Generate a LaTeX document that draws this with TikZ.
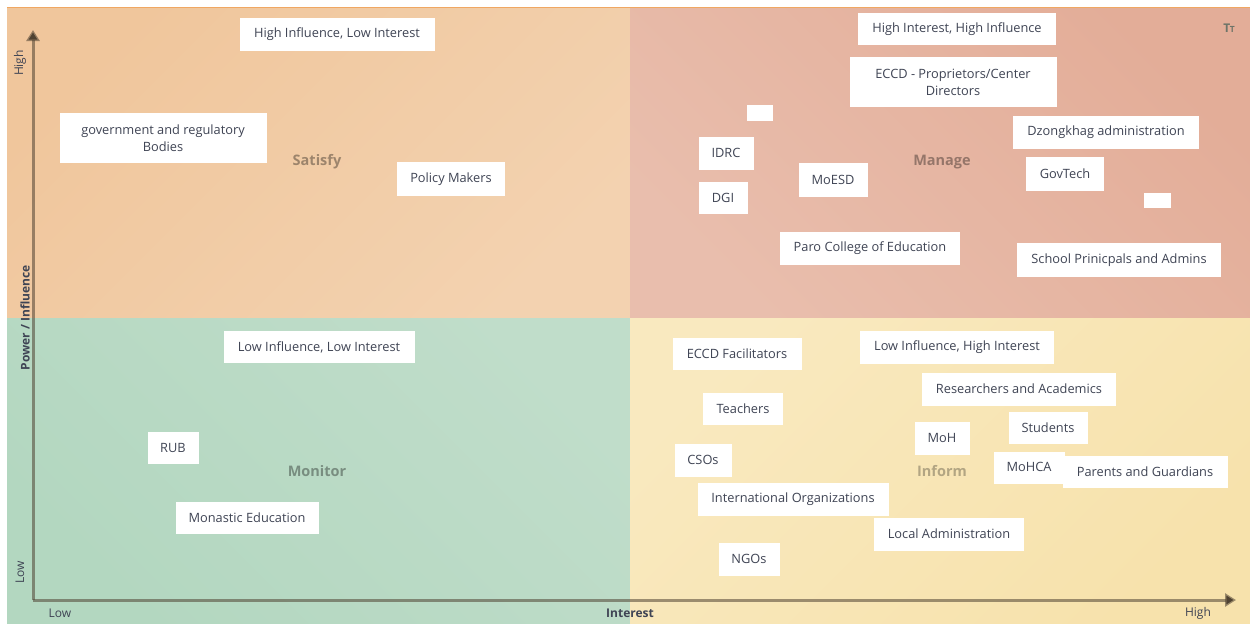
\documentclass[tikz,border=0pt]{standalone}
\usepackage{fontspec}
\setmainfont{Open Sans}
\usetikzlibrary{arrows.meta}

\definecolor{ink}{HTML}{3F4454}
\definecolor{satisfyDark}{HTML}{F0C69C}
\definecolor{satisfyLight}{HTML}{F3D2B0}
\definecolor{manageDark}{HTML}{E3AD98}
\definecolor{manageLight}{HTML}{E9BEAD}
\definecolor{monitorDark}{HTML}{B3D7C0}
\definecolor{monitorLight}{HTML}{C0DDCA}
\definecolor{informDark}{HTML}{F7E2AC}
\definecolor{informLight}{HTML}{F9E9BF}
\definecolor{rimOrange}{HTML}{F0A762}
\definecolor{axisBrown}{HTML}{4F4232}
\definecolor{iconGrey}{HTML}{6E7468}

\begin{document}
\begin{tikzpicture}[x=1pt,y=-1pt,
   stake/.style={fill=white,text=ink,inner sep=0pt,minimum height=33pt,
      font=\fontsize{12.8}{17}\selectfont,align=center},
   zone/.style={text=black,text opacity=.35,font=\fontsize{14.5}{18}\selectfont\bfseries},
   axislabel/.style={text=ink,font=\fontsize{12}{14}\selectfont},
   axisline/.style={draw=axisBrown,draw opacity=.55,line width=3pt}]

   \useasboundingbox[fill=white] (0,0) rectangle (1250,625);

   % the four quadrants
   \shade[top color=satisfyDark,bottom color=satisfyLight,shading angle=45]
   (7,8) rectangle (630,318);
   \shade[top color=manageDark,bottom color=manageLight,shading angle=-45]
   (630,8) rectangle (1250,318);
   \shade[top color=monitorDark,bottom color=monitorLight,shading angle=135]
   (7,318) rectangle (630,623);
   \shade[top color=informDark,bottom color=informLight,shading angle=-135]
   (630,318) rectangle (1250,623);
   \draw[color=rimOrange,line width=1.5pt] (7,7.5) -- (1250,7.5);

   \node(satisfy)[zone] at (317,162) {Satisfy};
   \node(manage)[zone] at (942,162) {Manage};
   \node(monitor)[zone] at (317,471) {Monitor};
   \node(inform)[zone,text opacity=.28] at (942,471) {Inform};

   % axes
   \coordinate (origin) at (33,600);
   \coordinate (powerTip) at (33,30);
   \coordinate (interestTip) at (1236,600);
   \draw[axisline,-{Triangle[width=13pt,length=11pt]}] (origin) -- (powerTip);
   \draw[axisline,-{Triangle[width=13pt,length=11pt]}] (origin) -- (interestTip);

   \node(powerHigh)[axislabel,rotate=90] at (20,63) {High};
   \node(powerName)[axislabel,rotate=90,font=\fontsize{12}{14}\selectfont\bfseries]
   at (25,318) {Power / Influence};
   \node(powerLow)[axislabel,rotate=90] at (20,572) {Low};
   \node(interestLow)[axislabel] at (60,613) {Low};
   \node(interestName)[axislabel,font=\fontsize{12}{14}\selectfont\bfseries]
   at (630,613) {Interest};
   \node(interestHigh)[axislabel] at (1198,613) {High};

   \node(fontIcon)[text=iconGrey,font=\fontsize{12}{12}\selectfont\bfseries]
   at (1229,28) {T\kern-.5pt{\fontsize{8.5}{8.5}\selectfont T}};

   % high influence, low interest
   \node(hiLo)[stake,minimum width=195pt] at (337,34) {High Influence, Low Interest};
   \node(govBodies)[stake,minimum width=207pt,minimum height=50pt] at (163,138)
   {government and regulatory\\Bodies};
   \node(policyMakers)[stake,minimum width=108pt,minimum height=34pt] at (451,179)
   {Policy Makers};

   % high interest, high influence
   \node(hiHi)[stake,minimum width=198pt,minimum height=32pt] at (957,29)
   {High Interest, High Influence};
   \node(eccdOwners)[stake,minimum width=207pt,minimum height=50pt] at (953,82)
   {ECCD - Proprietors/Center\\Directors};
   \node(blankA)[stake,minimum width=26pt,minimum height=16pt] at (760,113) {};
   \node(idrc)[stake,minimum width=55pt] at (726,153) {IDRC};
   \node(dgi)[stake,minimum width=49pt,minimum height=32pt] at (723,198) {DGI};
   \node(moesd)[stake,minimum width=69pt,minimum height=34pt] at (833,180) {MoESD};
   \node(paro)[stake,minimum width=180pt] at (870,248) {Paro College of Education};
   \node(dzongkhag)[stake,minimum width=186pt] at (1106,132) {Dzongkhag administration};
   \node(govtech)[stake,minimum width=78pt,minimum height=34pt] at (1065,174) {GovTech};
   \node(blankB)[stake,minimum width=27pt,minimum height=15pt] at (1157,200) {};
   \node(principals)[stake,minimum width=204pt,minimum height=34pt] at (1119,260)
   {School Prinicpals and Admins};

   % low influence, low interest
   \node(loLo)[stake,minimum width=191pt,minimum height=32pt] at (319,347)
   {Low Influence, Low Interest};
   \node(rub)[stake,minimum width=51pt,minimum height=32pt] at (173,448) {RUB};
   \node(monastic)[stake,minimum width=143pt,minimum height=32pt] at (247,518)
   {Monastic Education};

   % low influence, high interest
   \node(loHi)[stake,minimum width=194pt] at (957,347) {Low Influence, High Interest};
   \node(eccdFac)[stake,minimum width=129pt,minimum height=32pt] at (737,354)
   {ECCD Facilitators};
   \node(teachers)[stake,minimum width=80pt,minimum height=32pt] at (743,409) {Teachers};
   \node(csos)[stake,minimum width=57pt] at (703,460) {CSOs};
   \node(intlOrgs)[stake,minimum width=191pt] at (793,499) {International Organizations};
   \node(ngos)[stake,minimum width=61pt] at (749,559) {NGOs};
   \node(researchers)[stake,minimum width=194pt] at (1019,389) {Researchers and Academics};
   \node(moh)[stake,minimum width=55pt] at (942,438) {MoH};
   \node(students)[stake,minimum width=79pt,minimum height=32pt] at (1048,428) {Students};
   \node(mohca)[stake,minimum width=71pt,minimum height=32pt] at (1029,468)
   {\raisebox{2pt}{MoHCA}};
   \node(parents)[stake,minimum width=165pt,minimum height=32pt] at (1145,472)
   {Parents and Guardians};
   \node(localAdmin)[stake,minimum width=150pt] at (949,534) {Local Administration};

\end{tikzpicture}
\end{document}
